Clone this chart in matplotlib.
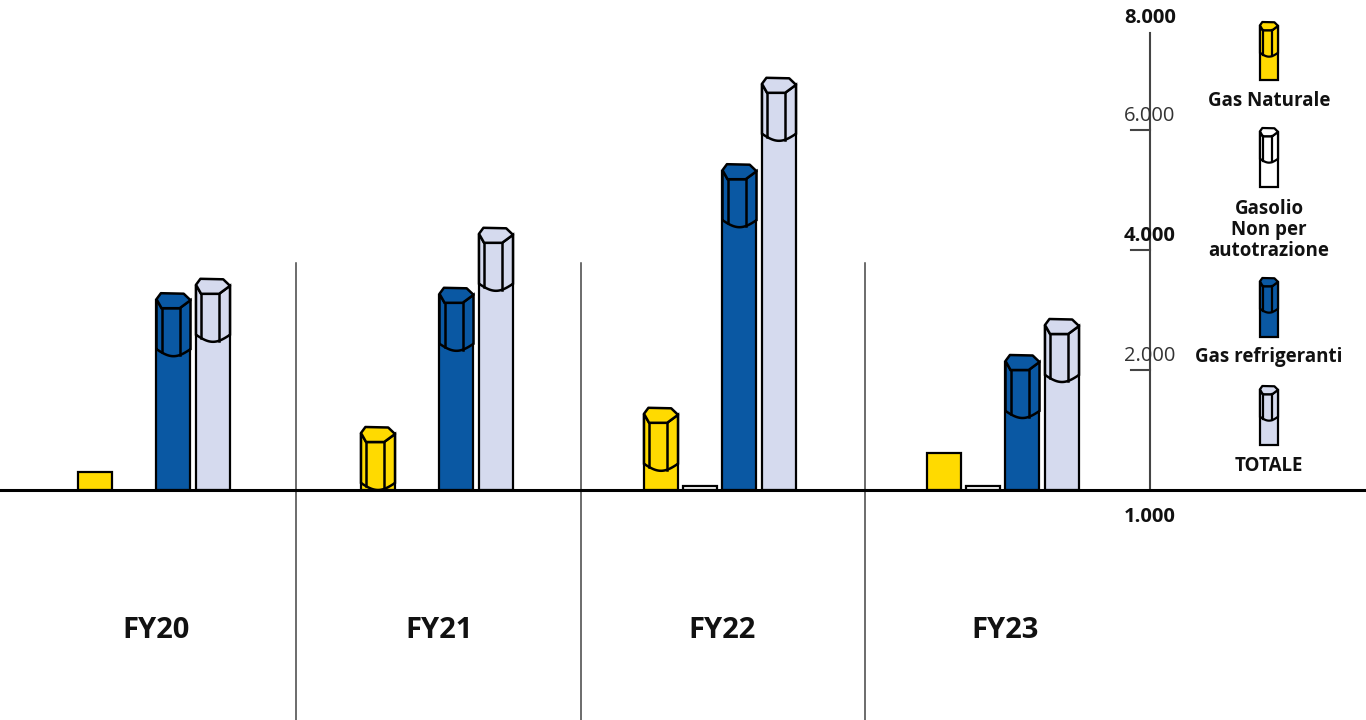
import numpy as np
import matplotlib
matplotlib.use("Agg")
import matplotlib.pyplot as plt
from matplotlib.patches import Polygon

plt.rcParams['font.family'] = ['Open Sans', 'DejaVu Sans']

# data (tCO2e)
years = ["FY20", "FY21", "FY22", "FY23"]
series = ["Gas Naturale", "Gasolio\nNon per\nautotrazione", "Gas refrigeranti", "TOTALE"]
gas_naturale = [300, 1050, 1370, 620]
gasolio = [0, 0, 70, 70]
gas_refrigeranti = [3280, 3370, 5430, 2250]
totale = [3520, 4370, 6870, 2850]
values = [gas_naturale, gasolio, gas_refrigeranti, totale]
colors = ["#FFDA00", "#FFFFFF", "#0A58A3", "#D5DAEE"]

tick_values = [2000, 4000, 6000]
tick_labels = ["2.000", "4.000", "6.000"]

# pixel <-> data helpers (figure is 1366x720 px)
GX = 283.0      # px per group
X0 = 154.0      # px of first group centre
K = 2000 / 120  # data units per px
ZERO = 490      # px row of zero line


def px_x(px):
    return (px - X0) / GX


def px_y(px):
    return (ZERO - px) * K


fig = plt.figure(figsize=(13.66, 7.2), dpi=100)
ax = fig.add_axes([0, 0, 1, 1])
ax.set_xlim(px_x(0), px_x(1366))
ax.set_ylim(px_y(720), px_y(0))
ax.axis('off')

offsets = np.array([-59, -19.5, 19.5, 59]) / GX
width = 34 / GX


def draw_cap(xl, w_px, top, color, s=1.0, lw=1.8):
    """3D-ish hexagonal cap on top of a bar. xl, top in data units."""
    w = w_px / GX

    def P(fx, dy):
        return (xl + fx * w, top - dy * s * K)

    def arc_y(fx):
        return 56 + 7 * np.sin(np.pi * fx)

    hexa = [P(0, 6), P(0.13, 0), P(0.8, 0.5), P(1, 7), P(0.68, 15), P(0.15, 15)]
    t = np.linspace(0, 1, 30)
    arc = [P(tt, arc_y(tt)) for tt in t[::-1]]
    front = [P(0, 6), P(0.15, 15), P(0.68, 15), P(1, 7)] + arc
    ax.add_patch(Polygon(front, closed=True, facecolor=color, edgecolor='black',
                         lw=lw, zorder=4))
    ax.add_patch(Polygon(hexa, closed=True, facecolor=color, edgecolor='black',
                         lw=lw, joinstyle='round', zorder=5))
    for fx in (0.15, 0.68):
        ax.plot([xl + fx * w] * 2, [top - 15 * s * K, top - arc_y(fx) * s * K],
                color='black', lw=lw, zorder=5)


x = np.arange(len(years))
for i, (vals, col) in enumerate(zip(values, colors)):
    vals = np.array(vals, dtype=float)
    for xi, v in zip(x + offsets[i], vals):
        if v <= 0:
            continue
        capped = v / K > 45
        h = v - 7 * K if capped else v
        ax.bar(xi, h, width, color=col, edgecolor='black', lw=1.6, zorder=3)
        if capped:
            draw_cap(xi - width / 2, 34, v, col)

# baseline and group dividers
ax.axhline(0, color='black', lw=2.2, zorder=6)
for px in (296, 581, 865):
    ax.plot([px_x(px)] * 2, [px_y(263), px_y(720)], color='#444444', lw=1.1)

for xi, yr in zip(x, years):
    ax.text(xi + 2 / GX, px_y(630), yr, ha='center', va='center',
            fontsize=21, fontweight='bold', color='#111111')

# value axis on the right
axx = px_x(1150)
ax.plot([axx, axx], [px_y(33), 0], color='#444444', lw=1.5, zorder=2)
for tv, tl, bold in zip(tick_values, tick_labels, [False, True, False]):
    ax.plot([px_x(1131), axx], [tv, tv], color='#444444', lw=1.5)
    ax.text(axx, tv + 14 * K, tl, ha='center', va='center', fontsize=14.5,
            fontweight='bold' if bold else 'normal',
            color='#111111' if bold else '#333333')
ax.text(axx, px_y(18), "8.000", ha='center', va='center', fontsize=14.5,
        fontweight='bold', color='#111111')
ax.text(axx, px_y(517), "1.000", ha='center', va='center', fontsize=14.5,
        fontweight='bold', color='#111111')

# legend made of small pillars
leg_x = px_x(1269)
leg_w = 18
leg_s = 0.55
leg_spans = [(80, 22), (187, 128), (337, 278), (445, 386)]
leg_text_y = [101, 230, 357, 466]
for (yb, yt), col, name, ty in zip(leg_spans, colors, series, leg_text_y):
    lw_d = leg_w / GX
    ax.bar(leg_x, px_y(yt) - px_y(yb) - 7 * leg_s * K, lw_d, bottom=px_y(yb),
           color=col, edgecolor='black', lw=1.6, zorder=3)
    draw_cap(leg_x - lw_d / 2, leg_w, px_y(yt), col, s=leg_s, lw=1.6)
    ax.text(leg_x, px_y(ty), name, ha='center', va='center', fontsize=13.5,
            fontweight='bold', color='#111111', linespacing=1.1)

fig.savefig("out.png", dpi=100, facecolor='white')
